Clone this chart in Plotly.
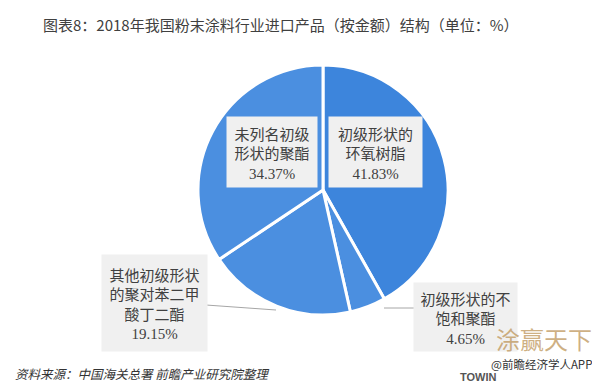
import plotly.graph_objects as go

categories = ["初级形状的环氧树脂", "初级形状的不饱和聚酯", "其他初级形状的聚对苯二甲酸丁二酯", "未列名初级形状的聚酯"]
label_lines = [["初级形状的", "环氧树脂"], ["初级形状的不", "饱和聚酯"], ["其他初级形状", "的聚对苯二甲", "酸丁二酯"], ["未列名初级", "形状的聚酯"]]
values = [41.83, 4.65, 19.15, 34.37]
colors = ["#3d85dc", "#4b8fe0", "#4b8fe0", "#4b8fe0"]

W, H = 600, 385
cx, cy, r = 315, 182, 125

fig = go.Figure(go.Pie(
    labels=categories, values=values, sort=False, direction="clockwise", rotation=0,
    marker=dict(colors=colors, line=dict(color="white", width=3)),
    textinfo="none", hoverinfo="label+percent", showlegend=False,
    domain=dict(x=[(cx - r) / W, (cx + r) / W], y=[(H - cy - r) / H, (H - cy + r) / H]),
))

# label boxes: (center x, center y, width, height) in pixels
boxes = [(367.5, 144, 91, 68), (457.5, 309, 101, 66), (146.5, 295, 103, 94), (264, 144, 88, 68)]
NUM = "font-family:'Liberation Serif', 'Times New Roman', serif;font-size:15px"
for lines, v, (bx, by, bw, bh) in zip(label_lines, values, boxes):
    txt = "<br>".join(lines) + "<br>" + f"<span style=\"{NUM}\">{v:.2f}%</span>"
    fig.add_annotation(x=bx / W, y=1 - by / H, xref="paper", yref="paper", text=txt,
                       showarrow=False, bgcolor="#f0f0f0", width=bw, height=bh,
                       font=dict(family="Noto Sans CJK SC", size=15, color="#404040"),
                       align="center", valign="middle", xanchor="center", yanchor="middle")

# leader lines
def px(x, y):
    return x / W, 1 - y / H
for (x0, y0), (x1, y1) in [((198, 297), (268, 302)), ((376, 300), (407, 300))]:
    a, b = px(x0, y0); c, d = px(x1, y1)
    fig.add_shape(type="line", x0=a, y0=b, x1=c, y1=d, xref="paper", yref="paper",
                  line=dict(color="#a6a6a6", width=1))

fig.add_annotation(x=272 / W, y=1 - 16 / H, xref="paper", yref="paper", showarrow=False,
                   text="图表8：2018年我国粉末涂料行业进口产品（按金额）结构（单位：%）",
                   font=dict(family="Noto Sans CJK SC", size=15, color="#404040"),
                   xanchor="center", yanchor="middle")
fig.add_annotation(x=5 / W, y=1 - 365 / H, xref="paper", yref="paper", showarrow=False,
                   text="<i>资料来源：中国海关总署 前瞻产业研究院整理</i>",
                   font=dict(family="Noto Sans CJK SC", size=12.5, color="#333333"),
                   xanchor="left", yanchor="middle")
# watermark
fig.add_annotation(x=586 / W, y=1 - 330 / H, xref="paper", yref="paper", showarrow=False,
                   text="涂赢天下", font=dict(family="Noto Sans CJK SC", size=24, color="rgba(190,150,90,0.75)"),
                   xanchor="right", yanchor="middle")
fig.add_annotation(x=586 / W, y=1 - 356 / H, xref="paper", yref="paper", showarrow=False,
                   text="@前瞻经济学人APP", font=dict(family="Noto Sans CJK SC", size=11.5, color="#333333"),
                   xanchor="right", yanchor="middle")
fig.add_annotation(x=470 / W, y=1 - 369 / H, xref="paper", yref="paper", showarrow=False,
                   text="<b>TOWIN</b>", font=dict(family="Liberation Sans", size=11, color="#555555"),
                   xanchor="center", yanchor="middle")

fig.update_layout(width=W, height=H, margin=dict(l=0, r=0, t=0, b=0),
                  paper_bgcolor="white", plot_bgcolor="white")
fig.write_html("out.html")
